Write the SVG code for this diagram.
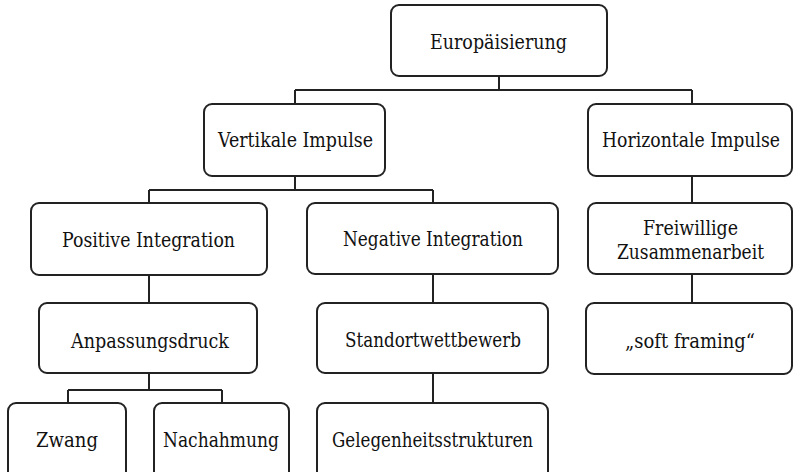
<svg xmlns="http://www.w3.org/2000/svg" width="794" height="472" viewBox="0 0 794 472">
<style>
.box{fill:#fff;stroke:#222;stroke-width:2}
.t{font-family:"DejaVu Serif",serif;font-size:21px;fill:#111;text-anchor:middle}
.c{fill:none;stroke:#222;stroke-width:2}
</style>
<rect width="794" height="472" fill="#fff"/>
<g id="connectors">
<path class="c" d="M499 76V90M295 90H692M295 90V104M692 90V104"/>
<path class="c" d="M295 176V190M149 190H433M149 190V203M433 190V203"/>
<path class="c" d="M692 176V203M692 274V303"/>
<path class="c" d="M149 275V303M433 274V303"/>
<path class="c" d="M149 373V390M68 390H222M68 390V403M222 390V403"/>
<path class="c" d="M433 373V403"/>
</g>
<g id="n-europaeisierung"><rect class="box" x="391" y="5" width="216" height="71" rx="8"/><text class="t" x="498.5" y="49" textLength="137" lengthAdjust="spacingAndGlyphs">Europäisierung</text></g>
<g id="n-vertikale"><rect class="box" x="204" y="104" width="181" height="72" rx="8"/><text class="t" x="295.5" y="147" textLength="155" lengthAdjust="spacingAndGlyphs">Vertikale Impulse</text></g>
<g id="n-horizontale"><rect class="box" x="588" y="104" width="204" height="72" rx="8"/><text class="t" x="691" y="147" textLength="178" lengthAdjust="spacingAndGlyphs">Horizontale Impulse</text></g>
<g id="n-positive"><rect class="box" x="31" y="203" width="236" height="72" rx="8"/><text class="t" x="148.5" y="247" textLength="173" lengthAdjust="spacingAndGlyphs">Positive Integration</text></g>
<g id="n-negative"><rect class="box" x="307" y="203" width="251" height="71" rx="8"/><text class="t" x="433" y="246" textLength="180" lengthAdjust="spacingAndGlyphs">Negative Integration</text></g>
<g id="n-freiwillige"><rect class="box" x="588" y="203" width="204" height="71" rx="8"/><text class="t" x="690.5" y="235" textLength="95" lengthAdjust="spacingAndGlyphs">Freiwillige</text><text class="t" x="690.5" y="259" textLength="147" lengthAdjust="spacingAndGlyphs">Zusammenarbeit</text></g>
<g id="n-anpassungsdruck"><rect class="box" x="39" y="303" width="218" height="70" rx="8"/><text class="t" x="150" y="348" textLength="158" lengthAdjust="spacingAndGlyphs">Anpassungsdruck</text></g>
<g id="n-standort"><rect class="box" x="317" y="303" width="231" height="70" rx="8"/><text class="t" x="433" y="347" textLength="176" lengthAdjust="spacingAndGlyphs">Standortwettbewerb</text></g>
<g id="n-softframing"><rect class="box" x="586" y="303" width="206" height="71" rx="8"/><text class="t" x="690" y="348" textLength="130" lengthAdjust="spacingAndGlyphs">„soft framing“</text></g>
<g id="n-zwang"><rect class="box" x="8" y="403" width="118" height="80" rx="8"/><text class="t" x="67" y="447" textLength="62" lengthAdjust="spacingAndGlyphs">Zwang</text></g>
<g id="n-nachahmung"><rect class="box" x="154" y="403" width="135" height="80" rx="8"/><text class="t" x="221" y="447" textLength="116" lengthAdjust="spacingAndGlyphs">Nachahmung</text></g>
<g id="n-gelegenheit"><rect class="box" x="317" y="403" width="231" height="80" rx="8"/><text class="t" x="432.5" y="447" textLength="201" lengthAdjust="spacingAndGlyphs">Gelegenheitsstrukturen</text></g>
</svg>
